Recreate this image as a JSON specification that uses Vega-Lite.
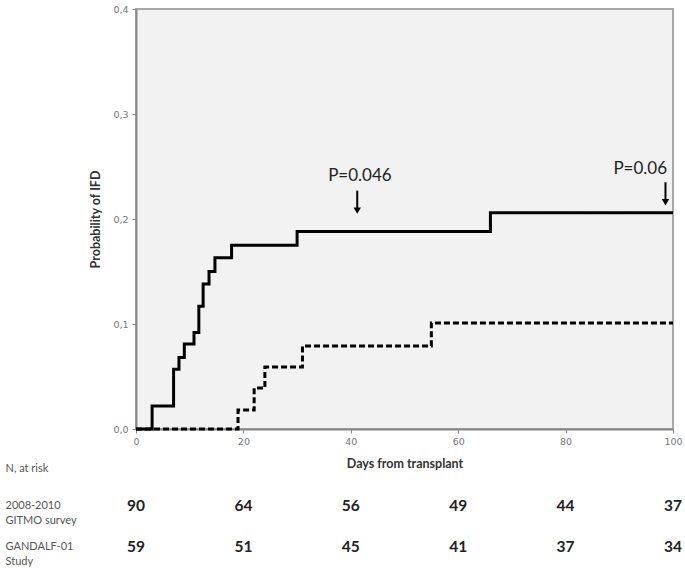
{
  "$schema": "https://vega.github.io/schema/vega-lite/v6.json",
  "padding": {"left": 5, "top": 3, "right": 2, "bottom": 0},
  "bounds": "flush",
  "spacing": 56,
  "config": {"font": "Lato", "view": {"stroke": null}},
  "datasets": {
    "curves": [
      {"group": "2008-2010 GITMO survey", "day": 0, "p": 0},
      {"group": "2008-2010 GITMO survey", "day": 3, "p": 0.022},
      {"group": "2008-2010 GITMO survey", "day": 7, "p": 0.057},
      {"group": "2008-2010 GITMO survey", "day": 8, "p": 0.068},
      {"group": "2008-2010 GITMO survey", "day": 9, "p": 0.081},
      {"group": "2008-2010 GITMO survey", "day": 10.8, "p": 0.092},
      {"group": "2008-2010 GITMO survey", "day": 11.7, "p": 0.117},
      {"group": "2008-2010 GITMO survey", "day": 12.5, "p": 0.138},
      {"group": "2008-2010 GITMO survey", "day": 13.6, "p": 0.15},
      {"group": "2008-2010 GITMO survey", "day": 14.7, "p": 0.163},
      {"group": "2008-2010 GITMO survey", "day": 17.8, "p": 0.175},
      {"group": "2008-2010 GITMO survey", "day": 30, "p": 0.188},
      {"group": "2008-2010 GITMO survey", "day": 66, "p": 0.206},
      {"group": "2008-2010 GITMO survey", "day": 100, "p": 0.206},
      {"group": "GANDALF-01 Study", "day": 0, "p": 0},
      {"group": "GANDALF-01 Study", "day": 19, "p": 0.018},
      {"group": "GANDALF-01 Study", "day": 22, "p": 0.039},
      {"group": "GANDALF-01 Study", "day": 24, "p": 0.059},
      {"group": "GANDALF-01 Study", "day": 31, "p": 0.079},
      {"group": "GANDALF-01 Study", "day": 55, "p": 0.101},
      {"group": "GANDALF-01 Study", "day": 100, "p": 0.101}
    ],
    "annots": [
      {"label": "P=0.046", "textDay": 41.7, "textP": 0.241, "arrowDay": 41.2, "top": 0.227, "bottom": 0.21, "head": 0.208},
      {"label": "P=0.06", "textDay": 93.9, "textP": 0.248, "arrowDay": 98.6, "top": 0.235, "bottom": 0.218, "head": 0.216}
    ],
    "risk": [
      {"group": "2008-2010|GITMO survey", "day": 0, "n": 90},
      {"group": "2008-2010|GITMO survey", "day": 20, "n": 64},
      {"group": "2008-2010|GITMO survey", "day": 40, "n": 56},
      {"group": "2008-2010|GITMO survey", "day": 60, "n": 49},
      {"group": "2008-2010|GITMO survey", "day": 80, "n": 44},
      {"group": "2008-2010|GITMO survey", "day": 100, "n": 37},
      {"group": "GANDALF-01|Study", "day": 0, "n": 59},
      {"group": "GANDALF-01|Study", "day": 20, "n": 51},
      {"group": "GANDALF-01|Study", "day": 40, "n": 45},
      {"group": "GANDALF-01|Study", "day": 60, "n": 41},
      {"group": "GANDALF-01|Study", "day": 80, "n": 37},
      {"group": "GANDALF-01|Study", "day": 100, "n": 34}
    ]
  },
  "vconcat": [
    {
      "width": 537,
      "height": 420,
      "view": {"fill": "#f2f2f2", "stroke": "#a8a8a8", "strokeWidth": 2},
      "layer": [
        {
          "data": {"name": "curves"},
          "mark": {"type": "line", "interpolate": "step-after", "strokeWidth": 3, "color": "#000"},
          "encoding": {
            "x": {
              "field": "day", "type": "quantitative",
              "scale": {"domain": [0, 100], "nice": false},
              "axis": {
                "values": [0, 20, 40, 60, 80, 100], "grid": false, "labelFlush": false,
                "labelFontSize": 9.5, "labelColor": "#777", "labelFont": "DejaVu Sans", "labelPadding": 3,
                "tickSize": 4, "tickColor": "#888", "domainColor": "#888", "domainWidth": 2,
                "title": "Days from transplant", "titleFontSize": 12.5, "titleFontWeight": "bold",
                "titleColor": "#333", "titlePadding": 12
              }
            },
            "y": {
              "field": "p", "type": "quantitative",
              "scale": {"domain": [0, 0.4], "nice": false},
              "axis": {
                "values": [0, 0.1, 0.2, 0.3, 0.4], "grid": false, "labelFlush": false,
                "labelExpr": "replace(format(datum.value, '.1f'), '.', ',')",
                "labelFontSize": 9.5, "labelColor": "#777", "labelFont": "DejaVu Sans", "labelPadding": 4,
                "tickSize": 4, "tickColor": "#888", "domainColor": "#888", "domainWidth": 2,
                "title": "Probability of IFD", "titleFontSize": 12.5, "titleFontWeight": "bold",
                "titleColor": "#333", "titlePadding": 10
              }
            },
            "strokeDash": {
              "field": "group", "type": "nominal",
              "scale": {"domain": ["2008-2010 GITMO survey", "GANDALF-01 Study"], "range": [[1, 0], [6, 3]]},
              "legend": null
            },
            "detail": {"field": "group"}
          }
        },
        {
          "data": {"name": "annots"},
          "mark": {"type": "rule", "strokeWidth": 2, "color": "#000"},
          "encoding": {
            "x": {"field": "arrowDay", "type": "quantitative"},
            "y": {"field": "top", "type": "quantitative"},
            "y2": {"field": "bottom"}
          }
        },
        {
          "data": {"name": "annots"},
          "mark": {"type": "point", "shape": "triangle-down", "filled": true, "size": 55, "color": "#000", "opacity": 1},
          "encoding": {
            "x": {"field": "arrowDay", "type": "quantitative"},
            "y": {"field": "head", "type": "quantitative"}
          }
        },
        {
          "data": {"name": "annots"},
          "mark": {"type": "text", "fontSize": 17, "color": "#222", "font": "Lato", "baseline": "middle"},
          "encoding": {
            "x": {"field": "textDay", "type": "quantitative"},
            "y": {"field": "textP", "type": "quantitative"},
            "text": {"field": "label"}
          }
        }
      ]
    },
    {
      "width": 537,
      "height": 82,
      "data": {"name": "risk"},
      "mark": {"type": "text", "fontSize": 15.5, "fontWeight": "bold", "color": "#222", "font": "Lato", "baseline": "middle"},
      "encoding": {
        "x": {"field": "day", "type": "quantitative", "scale": {"domain": [0, 100], "nice": false}, "axis": null},
        "y": {
          "field": "group", "type": "nominal",
          "scale": {"type": "point", "padding": 0.5, "domain": ["2008-2010|GITMO survey", "GANDALF-01|Study"]},
          "axis": {
            "title": "N, at risk", "titleAngle": 0, "titleAlign": "left", "titleBaseline": "middle",
            "titleX": -131, "titleY": -17, "titleFont": "Lato", "titleFontWeight": "normal",
            "titleFontSize": 11, "titleColor": "#555",
            "labelAlign": "left", "labelBaseline": "middle", "labelPadding": 131, "labelExpr": "split(datum.label, '|')",
            "labelLineHeight": 15, "labelFontSize": 11, "labelColor": "#555", "labelFont": "Lato",
            "ticks": false, "tickSize": 0, "domain": false
          }
        },
        "text": {"field": "n", "type": "quantitative"}
      }
    }
  ]
}
